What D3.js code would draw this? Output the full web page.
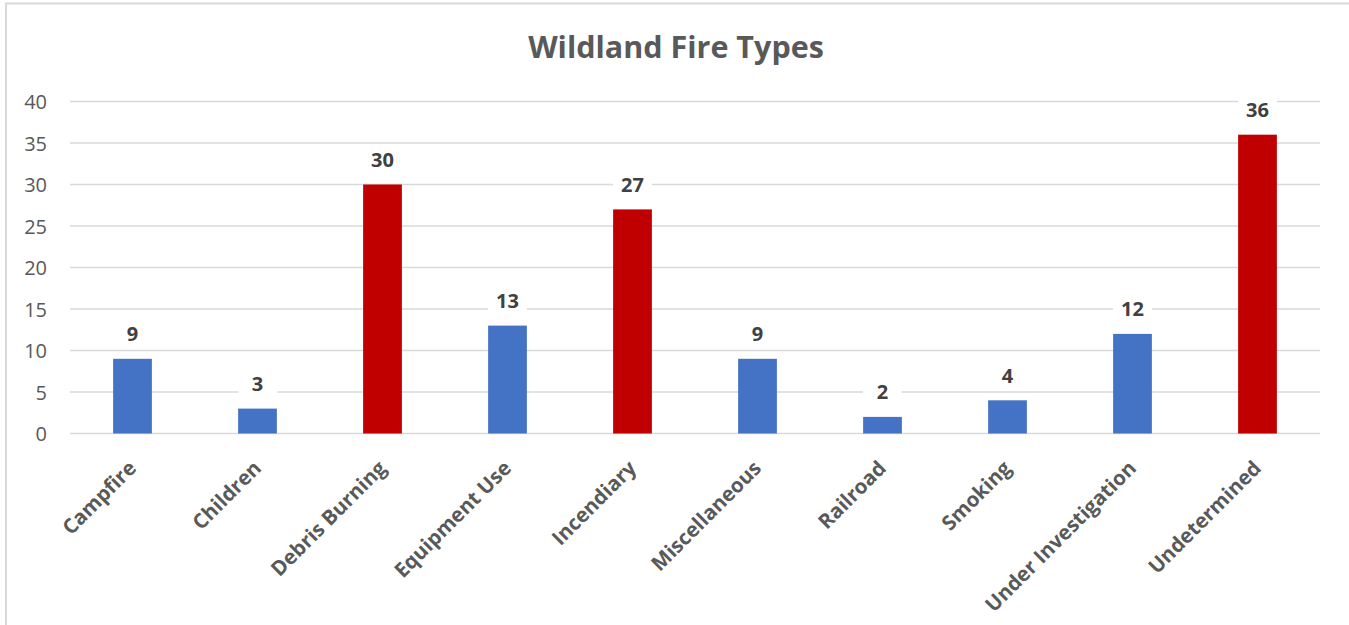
<!DOCTYPE html>
<html>
<head>
<meta charset="utf-8">
<script src="https://cdn.jsdelivr.net/npm/d3@7"></script>
<style>
html,body{margin:0;padding:0;background:#fff;overflow:hidden;}
svg{display:block;}
</style>
</head>
<body>
<svg id="chart" width="1349" height="625"></svg>
<script>
const categories = ["Campfire","Children","Debris Burning","Equipment Use","Incendiary","Miscellaneous","Railroad","Smoking","Under Investigation","Undetermined"];
const values = [9,3,30,13,27,9,2,4,12,36];
const highlighted = ["Debris Burning","Incendiary","Undetermined"];
const yTicks = [0,5,10,15,20,25,30,35,40];
const title = "Wildland Fire Types";

const svg = d3.select("#chart");
const font = "'Open Sans', sans-serif";
const textColor = "#595959";

// chart border (left & top visible)
svg.append("rect").attr("x",6).attr("y",3.5).attr("width",1360).attr("height",640)
  .attr("fill","none").attr("stroke","#d9d9d9").attr("stroke-width",2);

const mLeft = 70, mRight = 1320, mTop = 101.5, mBottom = 433.5;
const x = d3.scaleBand().domain(categories).range([mLeft,mRight]).paddingInner(0.69).paddingOuter(0.345);
const y = d3.scaleLinear().domain([0,40]).range([mBottom,mTop]);

svg.append("text").attr("x",676).attr("y",58).attr("text-anchor","middle")
  .attr("font-family",font).attr("font-weight","bold").attr("font-size",30.5)
  .attr("fill",textColor).text(title);

// gridlines
svg.append("g").selectAll("line").data(yTicks).join("line")
  .attr("x1",mLeft).attr("x2",mRight).attr("y1",d=>y(d)).attr("y2",d=>y(d))
  .attr("stroke","#d9d9d9").attr("stroke-width",1.5);

// y axis labels
const yAxis = d3.axisLeft(y).tickValues(yTicks).tickSize(0).tickPadding(0);
const ya = svg.append("g").attr("transform",`translate(47,0)`).call(yAxis);
ya.select(".domain").remove();
ya.selectAll("text").attr("font-family",font).attr("font-size",20).attr("fill",textColor).attr("dy","0.35em");

// bars
svg.append("g").selectAll("rect").data(categories).join("rect")
  .attr("x",d=>x(d)).attr("width",x.bandwidth())
  .attr("y",(d,i)=>y(values[i])).attr("height",(d,i)=>y(0)-y(values[i]))
  .attr("fill",d=>highlighted.includes(d)?"#C00000":"#4472C4");

// data labels with white background
const lbl = svg.append("g").selectAll("g").data(categories).join("g")
  .attr("transform",(d,i)=>`translate(${x(d)+x.bandwidth()/2},${y(values[i])-25})`);
lbl.append("rect").attr("x",-x.bandwidth()/2).attr("width",x.bandwidth()).attr("y",-14).attr("height",28).attr("fill","#fff");
lbl.append("text").attr("text-anchor","middle").attr("dy","0.36em")
  .attr("font-family",font).attr("font-weight","bold").attr("font-size",20)
  .attr("fill","#404040").text((d,i)=>values[i]);

// x axis labels
const xAxis = d3.axisBottom(x).tickSize(0).tickPadding(0);
const xa = svg.append("g").attr("transform",`translate(0,${mBottom})`).call(xAxis);
xa.select(".domain").remove();
xa.selectAll("text")
  .attr("font-family",font).attr("font-weight","bold").attr("font-size",20.5).attr("fill",textColor)
  .attr("text-anchor","end").attr("dy",null).attr("y",0)
  .attr("transform","translate(5,36) rotate(-45)");
</script>
</body>
</html>
